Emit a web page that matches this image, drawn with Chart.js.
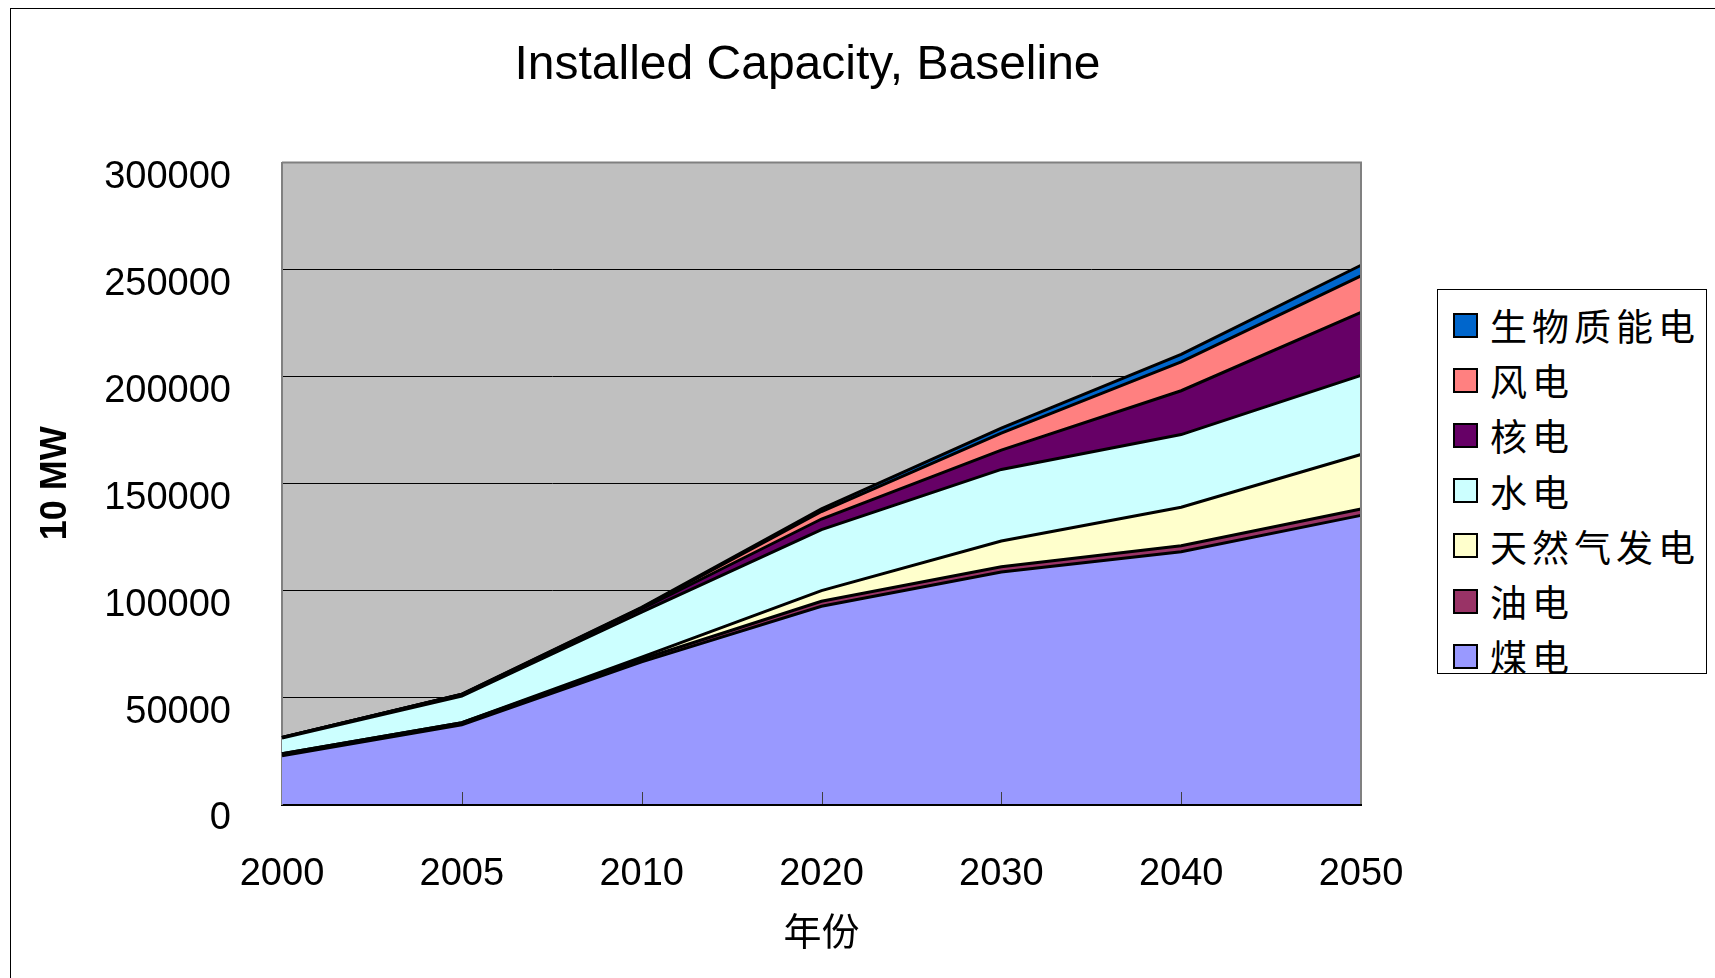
<!DOCTYPE html>
<html>
<head>
<meta charset="utf-8">
<script src="https://cdn.jsdelivr.net/npm/chart.js@4"></script>
<style>
  html, body { margin: 0; padding: 0; background: #fff; overflow: hidden; }
  #wrap { position: relative; width: 1715px; height: 978px; }
  #frame { position: absolute; left: 10px; top: 8px; width: 3000px; height: 3000px;
           border: 1px solid #000; pointer-events: none; }
  #legend { position: absolute; left: 1437px; top: 289px; width: 270px; height: 385px;
            border: 1px solid #000; background: #fff; overflow: hidden; box-sizing: border-box; }
  .item { position: absolute; left: 0; height: 40px; display: flex; align-items: center; }
  .box { width: 21px; height: 21px; border: 2px solid #000; margin-left: 15px; margin-right: 12px; }
  .lbl { font-family: "Noto Sans CJK SC", sans-serif; font-size: 37px; letter-spacing: 5px; line-height: 40px; color: #000; }
</style>
</head>
<body>
<div id="wrap">
  <canvas id="capChart" width="1715" height="978"></canvas>
  <div id="frame"></div>
  <div id="legend"></div>
</div>
<script>
const years = ["2000", "2005", "2010", "2020", "2030", "2040", "2050"];
// 10 MW
const coal    = [22500, 37000, 66500, 92500, 108500, 118000, 135000];
const oil     = [1000, 1000, 1200, 2300, 2500, 2800, 3000];
const gas     = [0, 0, 1000, 5000, 12000, 18000, 25500];
const hydro   = [7300, 12500, 21000, 28500, 33500, 34000, 37000];
const nuclear = [300, 700, 1500, 5000, 9000, 20500, 29500];
const wind    = [0, 100, 500, 3500, 8000, 13500, 17000];
const biomass = [0, 100, 300, 1200, 2300, 3500, 5000];

const seriesNames = ["煤电", "油电", "天然气发电", "水电", "核电", "风电", "生物质能电"];
const seriesData = [coal, oil, gas, hydro, nuclear, wind, biomass];
const seriesColors = ["#9999FF", "#993366", "#FFFFCC", "#CCFFFF", "#660066", "#FF8080", "#0066CC"];

const latin = "'Liberation Sans', Arial, sans-serif";

const plotFrame = {
    id: "plotFrame",
    beforeDraw(chart) {
        const {ctx, chartArea: a} = chart;
        ctx.save();
        ctx.fillStyle = "#C0C0C0";
        ctx.fillRect(a.left, a.top, a.right - a.left, a.bottom - a.top);
        ctx.restore();
    },
    afterDraw(chart) {
        const {ctx, chartArea: a} = chart;
        const xs = chart.scales.x;
        ctx.save();
        // petites graduations vers l'intérieur
        ctx.strokeStyle = "#404040";
        ctx.lineWidth = 1;
        for (let i = 1; i < years.length - 1; i++) {
            const px = Math.round(xs.getPixelForValue(i)) + 0.5;
            ctx.beginPath();
            ctx.moveTo(px, a.bottom);
            ctx.lineTo(px, a.bottom - 12);
            ctx.stroke();
        }
        ctx.strokeStyle = "#808080";
        ctx.lineWidth = 2;
        ctx.beginPath();
        ctx.moveTo(a.left, a.top);
        ctx.lineTo(a.right, a.top);
        ctx.lineTo(a.right, a.bottom);
        ctx.stroke();
        ctx.restore();
    }
};

const ctx = document.getElementById("capChart").getContext("2d");
const capChart = new Chart(ctx, {
    type: "line",
    data: {
        labels: years,
        datasets: seriesNames.map((name, i) => ({
            label: name,
            data: seriesData[i],
            backgroundColor: seriesColors[i],
            borderColor: "#000",
            borderWidth: 3,
            fill: i === 0 ? "origin" : "-1",
            pointRadius: 0,
            tension: 0
        }))
    },
    options: {
        responsive: false,
        animation: false,
        layout: { padding: { left: 0, right: 100, top: 0, bottom: 0 } },
        plugins: {
            legend: { display: false },
            tooltip: { enabled: false },
            title: {
                display: true,
                text: "Installed Capacity, Baseline",
                color: "#000",
                font: { family: latin, size: 48, weight: "normal" },
                padding: { top: 37, bottom: 68 }
            }
        },
        scales: {
            x: {
                offset: false,
                grid: { display: false },
                border: { display: true, color: "#000", width: 3 },
                ticks: { color: "#000", font: { family: latin, size: 38 }, padding: 40, maxRotation: 0 },
                title: {
                    display: true,
                    text: "年份",
                    color: "#000",
                    font: { family: "'Noto Sans CJK SC', sans-serif", size: 38 },
                    padding: { top: 0, bottom: 25 }
                },
                afterFit(scale) { scale.height = 174; }
            },
            y: {
                stacked: true,
                min: 0,
                max: 300000,
                grid: { color: "#000", lineWidth: 1, drawTicks: false },
                border: { display: true, color: "#808080", width: 2 },
                ticks: {
                    stepSize: 50000,
                    color: "#000",
                    font: { family: latin, size: 38 },
                    padding: 51,
                    labelOffset: 15,
                    callback: (v) => String(v)
                },
                title: {
                    display: true,
                    text: "10 MW",
                    color: "#000",
                    font: { family: latin, size: 36, weight: "bold" },
                    padding: { top: 34, bottom: 0 }
                },
                afterFit(scale) { scale.width = 282; }
            },
            yRight: {
                position: "right",
                display: true,
                grid: { display: false },
                border: { display: false },
                ticks: { display: false },
                afterFit(scale) { scale.width = 254; }
            }
        }
    },
    plugins: [plotFrame]
});

// Légende
function remplirLegende() {
    const box = document.getElementById("legend");
    box.innerHTML = "";
    const sets = capChart.data.datasets.slice().reverse();
    sets.forEach((ds, index) => {
        const row = document.createElement("div");
        row.className = "item";
        row.style.top = (15 + index * 55.2) + "px";
        row.innerHTML = `<div class="box" style="background:${ds.backgroundColor}"></div><span class="lbl">${ds.label}</span>`;
        box.appendChild(row);
    });
}

remplirLegende();
</script>
</body>
</html>
